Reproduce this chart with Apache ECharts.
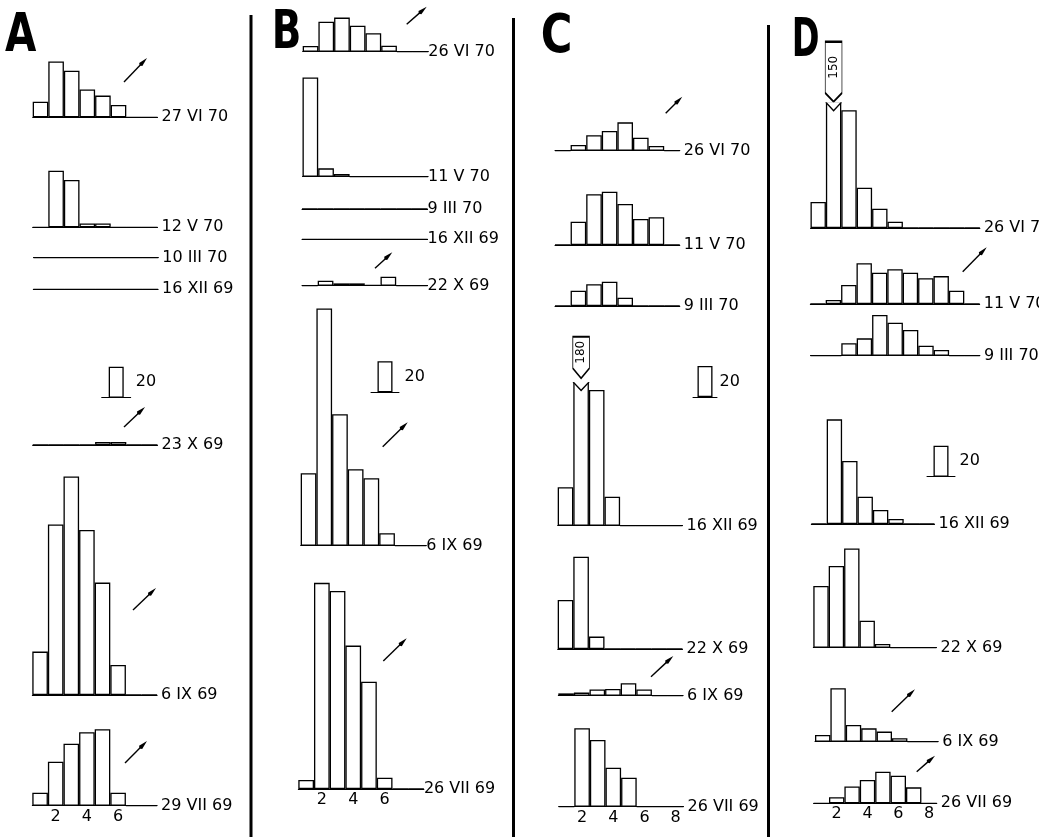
<!DOCTYPE html>
<html>
<head>
<meta charset="utf-8">
<script src="https://cdn.jsdelivr.net/npm/echarts@6/dist/echarts.min.js"></script>
<style>html,body{margin:0;padding:0;background:#fff}#c{width:1039px;height:837px}</style>
</head>
<body>
<div id="c"></div>
<script>
// ---------------- DATA ----------------
const cats8 = ['1','2','3','4','5','6','7','8'];
const cats11 = ['1','2','3','4','5','6','7','8','9','10','11'];
const tickLabelsAB = ['2','4','6'];
const tickLabelsCD = ['2','4','6','8'];
const scaleBarValue = [20];

// Panel A
const datesA = ['27 VI 70','12 V 70','10 III 70','16 XII 69','23 X 69','6 IX 69','29 VII 69'];
const a_27VI70  = [10, 36, 30, 18, 14, 8, 0, 0];
const a_12V70   = [0, 36.5, 30.5, 2.5, 2.5, 0, 0, 0];
const a_10III70 = [0, 0, 0, 0, 0, 0, 0, 0];
const a_16XII69 = [0, 0, 0, 0, 0, 0, 0, 0];
const a_23X69   = [0, 0, 0, 0, 2, 2, 0, 0];
const a_6IX69   = [28, 110, 141, 106.5, 72.5, 19.4, 0, 0];
const a_29VII69 = [8.4, 28.4, 40, 47.4, 49.3, 8.4, 0, 0];

// Panel B
const datesB = ['26 VI 70','11 V 70','9 III 70','16 XII 69','22 X 69','6 IX 69','26 VII 69'];
const b_26VI70  = [3.7, 19.4, 22, 16.8, 11.9, 3.9, 0, 0];
const b_11V70   = [64, 5.4, 1.7, 0, 0, 0, 0, 0];
const b_9III70  = [0, 0, 0, 0, 0, 0, 0, 0];
const b_16XII69 = [0, 0, 0, 0, 0, 0, 0, 0];
const b_22X69   = [0, 3.2, 1.5, 1.5, 0.5, 5.8, 0, 0];
const b_6IX69   = [46.7, 153, 84.8, 49.3, 43.5, 8, 0, 0];
const b_26VII69 = [5.8, 133, 127.7, 92.5, 69.2, 7.3, 0, 0];

// Panel C
const datesC = ['26 VI 70','11 V 70','9 III 70','16 XII 69','22 X 69','6 IX 69','26 VII 69'];
const c_26VI70  = [0, 3.7, 10, 12.7, 18.3, 8.4, 3, 0];
const c_11V70   = [0, 15, 32.7, 34.4, 26.5, 16.8, 17.9, 0];
const c_9III70  = [0, 9.9, 14, 15.7, 5.4, 0, 0, 0];
const c_16XII69 = [24.8, 180, 87.5, 18.7, 0, 0, 0, 0];
const c_22X69   = [31.6, 59.5, 8, 0, 0, 0, 0, 0];
const c_6IX69   = [1.5, 2, 4, 4.3, 8, 4, 0, 0];
const c_26VII69 = [0, 50.6, 43, 25.2, 18.7, 0, 0, 0];

// Panel D
const datesD = ['26 VI 70','11 V 70','9 III 70','16 XII 69','22 X 69','6 IX 69','26 VII 69'];
const d_26VI70  = [16.8, 150, 76, 26, 12.5, 4, 0, 0, 0, 0, 0];
const d_11V70   = [0, 2.6, 12.3, 26.3, 20.2, 22.4, 20.2, 16.6, 18, 8.6, 0];
const d_9III70  = [0, 0, 8, 11.2, 26.3, 21.3, 16.6, 6.5, 3.7, 0, 0];
const d_16XII69 = [0, 67.5, 40.6, 17.6, 9, 3.2, 0, 0];
const d_22X69   = [39.8, 52.7, 64, 17.4, 2.4, 0, 0, 0];
const d_6IX69   = [4.3, 34.5, 10.8, 8.6, 6.5, 2.2, 0, 0];
const d_26VII69 = [0, 3.9, 10.8, 15, 20.4, 17.8, 10.3, 0];

// ---------------- LAYOUT ----------------
const PX = 31 / 20;              // pixels per count (scale bar "20" = 31 px)
const FONT = '"DejaVu Sans", sans-serif';

const panels = [
  { dates: datesA, values: [a_27VI70, a_12V70, a_10III70, a_16XII69, a_23X69, a_6IX69, a_29VII69],
    cats: [cats8, cats8, cats8, cats8, cats8, cats8, cats8], ticks: tickLabelsAB,
    bases: [117.3, 227.3, 257.7, 289.3, 445, 695, 805.7],
    lefts: [32.7, 32.7, 33.5, 33.3, 32.7, 32.3, 32.3], binW: 15.6, nameGap: 4 },
  { dates: datesB, values: [b_26VI70, b_11V70, b_9III70, b_16XII69, b_22X69, b_6IX69, b_26VII69],
    cats: [cats8, cats8, cats8, cats8, cats8, cats8, cats8], ticks: tickLabelsAB,
    bases: [51.7, 176.7, 209, 239.3, 285.7, 545.7, 789],
    lefts: [302.7, 302.5, 302, 302, 302, 300.7, 298.3], binW: 15.7, nameGap: 0 },
  { dates: datesC, values: [c_26VI70, c_11V70, c_9III70, c_16XII69, c_22X69, c_6IX69, c_26VII69],
    cats: [cats8, cats8, cats8, cats8, cats8, cats8, cats8], ticks: tickLabelsCD,
    bases: [150.7, 245, 306, 525.7, 649, 695.7, 806.7],
    lefts: [555, 555, 555, 557.7, 557.7, 558.3, 558.7], binW: 15.6, nameGap: 4,
    broken: { row: 3, bin: 1, cap: 92, boxW: 16.6, boxH: 41.6, tip: 10, gap: 4.8, labelY: '38%' } },
  { dates: datesD, values: [d_26VI70, d_11V70, d_9III70, d_16XII69, d_22X69, d_6IX69, d_26VII69],
    cats: [cats11, cats11, cats11, cats8, cats8, cats8, cats8], ticks: tickLabelsCD,
    bases: [228, 304, 355.7, 524, 647.7, 741.7, 803.3],
    lefts: [810.5, 810.3, 810.5, 811.3, 813.3, 815, 813.6], binW: 15.4, nameGap: 4,
    broken: { row: 0, bin: 1, cap: 80.4, boxW: 16.7, boxH: 60, tip: 8.7, gap: 1.7, labelY: '43%' } }
];

const scaleBars = [
  { base: 397.7, left: 101.7, width: 29, dist: 12 },
  { base: 392.3, left: 371, width: 28, dist: 12 },
  { base: 397, left: 693, width: 24, dist: 7 },
  { base: 476.7, left: 927, width: 28, dist: 11 }
];

const arrows = [
  [124, 82, 147, 58], [124, 427, 145, 407], [133, 610, 156, 588], [125, 763, 147, 741],
  [406.7, 24.3, 426.7, 6.7], [375, 268.3, 392.3, 252.3], [382.7, 446.7, 407.7, 422.3], [383.3, 661, 406.7, 638.3],
  [665.7, 113.3, 682.3, 96.7], [651, 676.7, 673.3, 656],
  [962.7, 271.7, 986.7, 247.3], [891.7, 711.7, 915, 689.3], [916.7, 771.7, 935, 755.7]
];

const dividers = [[251, 15], [513.5, 18], [768.5, 25]];

const letters = [
  { t: 'A', x: 5, y: 12, sx: 0.75 },
  { t: 'B', x: 271.7, y: 9, sx: 0.72 },
  { t: 'C', x: 540.7, y: 13.3, sx: 0.8 },
  { t: 'D', x: 791.7, y: 16.7, sx: 0.62 }
];

// ---------------- BUILD ----------------
const grids = [], xAxes = [], yAxes = [], series = [];

function addHist(vals, date, base, left, binW, cats, tickList, br, nameGap) {
  const i = grids.length;
  const ymax = br ? br.cap : Math.max(1, ...vals);
  const h = ymax * PX;
  grids.push({ left: left, top: base - h, width: cats.length * binW, height: h,
    containLabel: false, outerBoundsMode: 'none' });
  xAxes.push({
    type: 'category', gridIndex: i, data: cats, boundaryGap: true,
    axisLine: { show: true, onZero: false, lineStyle: { color: '#000', width: 1 } },
    axisTick: { show: false }, splitLine: { show: false },
    axisLabel: { show: !!tickList, interval: 0, margin: 3, color: '#000', fontSize: 16, fontFamily: FONT,
      formatter: v => (tickList && tickList.indexOf(v) >= 0) ? v : '' },
    name: date, nameLocation: 'end', nameGap: nameGap,
    nameTextStyle: { color: '#000', fontSize: 16, fontFamily: FONT, padding: [0, 0, 3, 0] }
  });
  yAxes.push({ type: 'value', gridIndex: i, min: 0, max: ymax, show: false });
  const s = {
    type: 'bar', xAxisIndex: i, yAxisIndex: i, data: vals, barCategoryGap: '0%', barGap: '0%',
    clip: true, silent: true,
    itemStyle: { color: '#fff', borderColor: '#000', borderWidth: 1.3 }
  };
  if (br) {
    const binName = cats[br.bin];
    const tipStart = br.boxH - br.tip;
    s.markPoint = {
      silent: true, animation: false,
      data: [
        { name: 'box', coord: [binName, br.cap], value: vals[br.bin],
          symbol: 'path://M0 0L10 0L10 ' + tipStart + 'L5 ' + br.boxH + 'L0 ' + tipStart + 'Z',
          symbolSize: [br.boxW, br.boxH], symbolOffset: [0, -(br.boxH / 2 + br.gap)],
          itemStyle: { color: '#fff', borderColor: '#000', borderWidth: 1.3 },
          label: { show: true, position: ['50%', br.labelY], formatter: '{c}', rotate: 90,
            align: 'center', verticalAlign: 'middle', fontSize: 12, color: '#000', fontFamily: FONT } },
        { name: 'notch', coord: [binName, br.cap],
          symbol: 'path://M0 0L5 5L10 0', symbolSize: [binW, 8.4], symbolOffset: [0, 8.4 / 2 - 1],
          itemStyle: { color: '#fff', borderColor: '#000', borderWidth: 1.3 },
          label: { show: false } }
      ]
    };
  }
  series.push(s);
}

panels.forEach(p => {
  p.values.forEach((vals, r) => {
    const last = r === p.values.length - 1;
    const br = (p.broken && p.broken.row === r) ? p.broken : null;
    addHist(vals, p.dates[r], p.bases[r], p.lefts[r], p.binW, p.cats[r], last ? p.ticks : null, br, p.nameGap);
  });
});

scaleBars.forEach(sb => {
  const i = grids.length;
  const h = scaleBarValue[0] * PX;
  grids.push({ left: sb.left, top: sb.base - h, width: sb.width, height: h,
    containLabel: false, outerBoundsMode: 'none' });
  xAxes.push({ type: 'category', gridIndex: i, data: ['s'],
    axisLine: { show: true, lineStyle: { color: '#000', width: 1 } },
    axisTick: { show: false }, axisLabel: { show: false }, splitLine: { show: false } });
  yAxes.push({ type: 'value', gridIndex: i, min: 0, max: scaleBarValue[0], show: false });
  series.push({ type: 'bar', xAxisIndex: i, yAxisIndex: i, data: scaleBarValue, barWidth: 15, silent: true,
    itemStyle: { color: '#fff', borderColor: '#000', borderWidth: 1.3 },
    label: { show: true, position: 'right', distance: sb.dist, formatter: '{c}', fontSize: 16,
      color: '#000', fontFamily: FONT } });
});

const graphic = [];
dividers.forEach(d => graphic.push({ type: 'line', silent: true,
  shape: { x1: d[0], y1: d[1], x2: d[0], y2: 837 }, style: { stroke: '#000', lineWidth: 3 } }));
letters.forEach(l => graphic.push({ type: 'text', silent: true, x: l.x, y: l.y - 2, scaleX: l.sx,
  style: { text: l.t, font: 'bold 54px "DejaVu Sans", sans-serif', fill: '#000', align: 'left', verticalAlign: 'top' } }));
arrows.forEach(a => {
  const dx = a[2] - a[0], dy = a[3] - a[1];
  const L = Math.sqrt(dx * dx + dy * dy);
  const ux = dx / L, uy = dy / L, px = -uy, py = ux;
  const hl = 9, hw = 2.2;
  const bx = a[2] - ux * hl, by = a[3] - uy * hl;
  graphic.push({ type: 'line', silent: true, shape: { x1: a[0], y1: a[1], x2: bx, y2: by },
    style: { stroke: '#000', lineWidth: 1.4 } });
  graphic.push({ type: 'polygon', silent: true,
    shape: { points: [[a[2], a[3]], [bx + px * hw, by + py * hw], [bx - ux * 1.5, by - uy * 1.5], [bx - px * hw, by - py * hw]] },
    style: { fill: '#000' } });
});

const chart = echarts.init(document.getElementById('c'), null, { renderer: 'canvas' });
chart.setOption({
  animation: false,
  backgroundColor: '#fff',
  grid: grids, xAxis: xAxes, yAxis: yAxes, series: series, graphic: graphic
});
</script>
</body>
</html>
